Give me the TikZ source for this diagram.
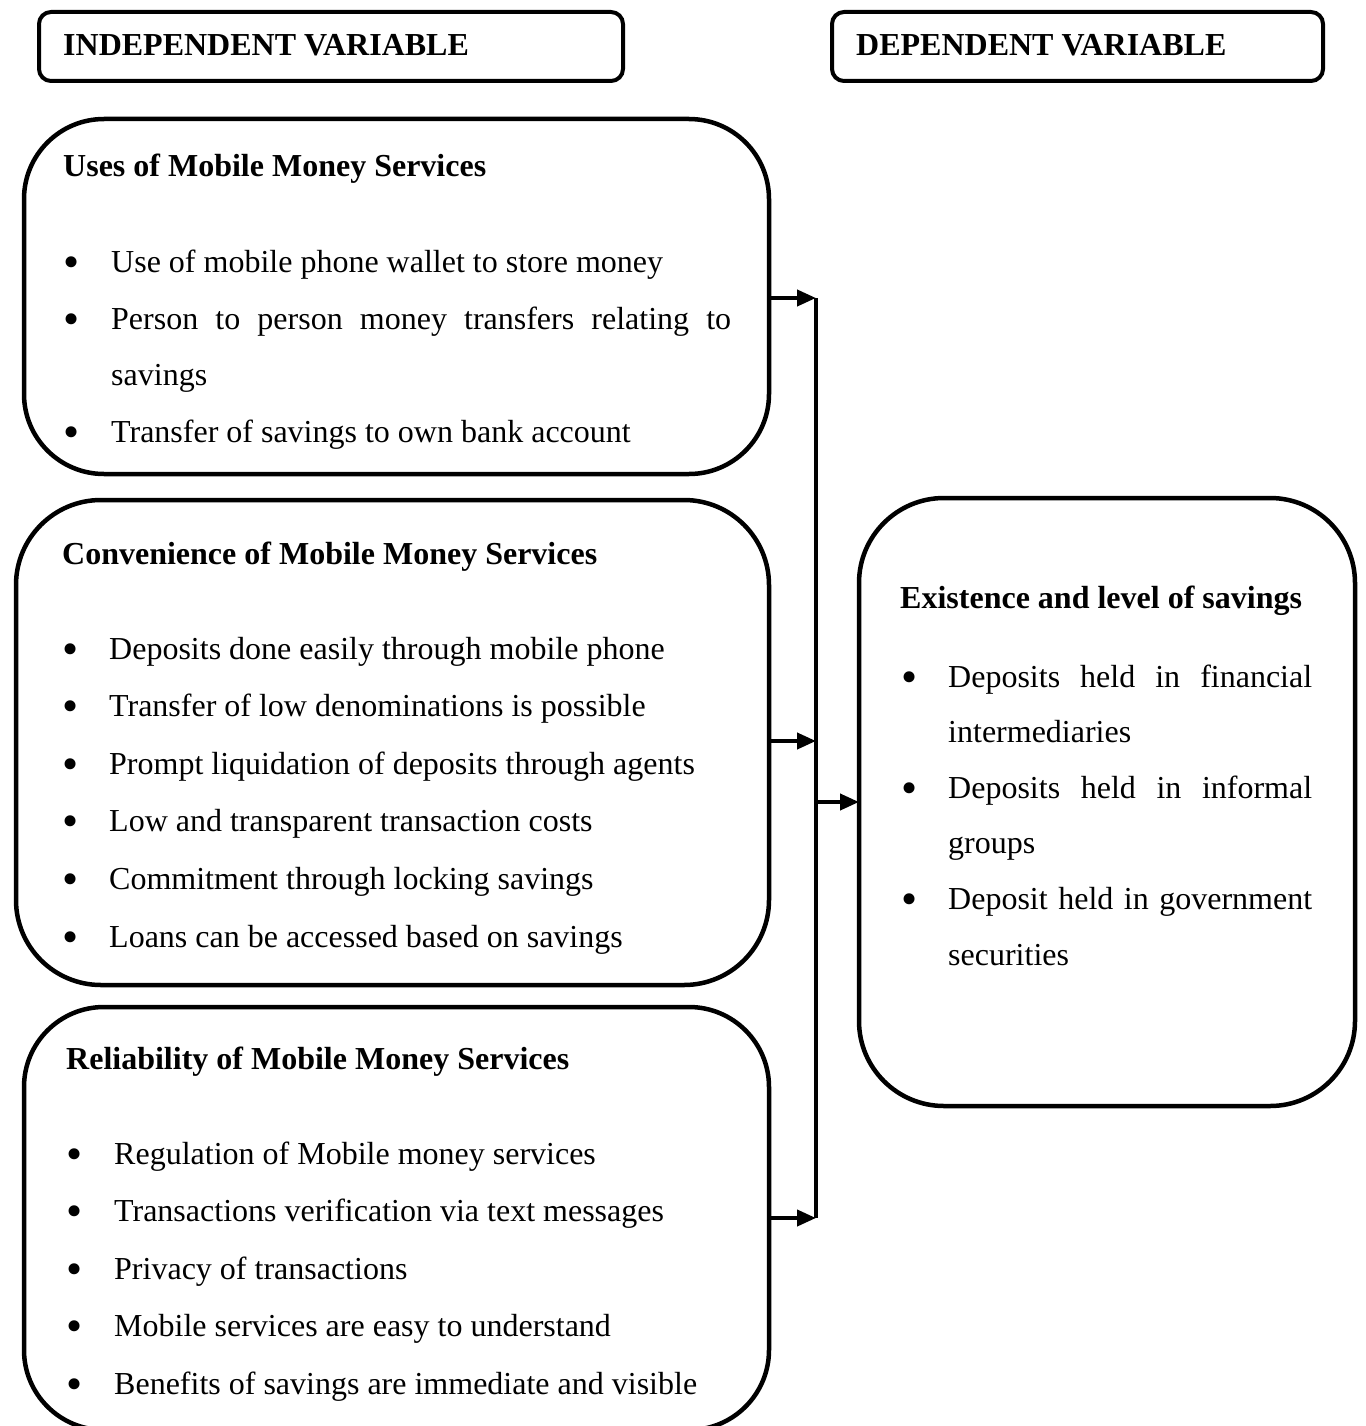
\documentclass[tikz,border=0pt]{standalone}
\usepackage{fontspec}
\setmainfont{Liberation Serif}
\usetikzlibrary{arrows.meta}
\begin{document}
\begin{tikzpicture}[x=1pt,y=-1pt,
  box/.style={draw, line width=4.5pt, rounded corners=80pt, inner sep=0pt, outer sep=0pt},
  hbox/.style={draw, line width=4pt, rounded corners=12pt, inner sep=0pt, outer sep=0pt},
  txt/.style={anchor=base west, inner sep=0pt, yshift=-4pt, font=\fontsize{32}{40}\selectfont},
  hd/.style={anchor=base west, inner sep=0pt, yshift=-3pt, font=\fontsize{32}{40}\selectfont\bfseries},
  bul/.style={anchor=base, inner sep=0pt, yshift=-9pt, font=\fontsize{46}{46}\selectfont},
  conn/.style={line width=4pt},
  arr/.style={line width=4pt, -{Triangle[length=19pt,width=16pt]}}]
\clip (0,0) rectangle (1365,1426);
% header boxes
\node[hbox, minimum width=584pt, minimum height=69pt] (h1) at (331,46.5) {};
\node[hbox, minimum width=491pt, minimum height=69pt] (h2) at (1077.5,46.5) {};
\node[hd] (h1t) at (63,53) {INDEPENDENT VARIABLE};
\node[hd] (h2t) at (856,53) {DEPENDENT VARIABLE};
% main boxes
\node[box, minimum width=745pt, minimum height=355pt] (b1) at (396.5,296.5) {};
\node[box, rounded corners=85pt, minimum width=753pt, minimum height=485pt] (b2) at (392.5,742.5) {};
\node[box, minimum width=745pt, minimum height=423pt] (b3) at (396.5,1218.5) {};
\node[box, rounded corners=85pt, minimum width=496pt, minimum height=608pt] (b4) at (1107,802) {};
% box 1 text
\node[hd] (b1h) at (63,173) {Uses of Mobile Money Services};
\node[bul] (b1u1) at (72,268) {\textbullet};
\node[txt] (b1t1) at (111,268) {Use of mobile phone wallet to store money};
\node[bul] (b1u2) at (72,325) {\textbullet};
\node[txt] (b1t2) at (111,325) {\makebox[620pt][s]{Person to person money transfers relating to}};
\node[txt] (b1t2b) at (111,381) {savings};
\node[bul] (b1u3) at (72,438) {\textbullet};
\node[txt] (b1t3) at (111,438) {Transfer of savings to own bank account};
% box 2 text
\node[hd] (b2h) at (62,561) {Convenience of Mobile Money Services};
\node[bul] (b2u1) at (71,655) {\textbullet};
\node[txt] (b2t1) at (109,655) {Deposits done easily through mobile phone};
\node[bul] (b2u2) at (71,712.6) {\textbullet};
\node[txt] (b2t2) at (109,712.6) {Transfer of low denominations is possible};
\node[bul] (b2u3) at (71,770.2) {\textbullet};
\node[txt] (b2t3) at (109,770.2) {Prompt liquidation of deposits through agents};
\node[bul] (b2u4) at (71,827.8) {\textbullet};
\node[txt] (b2t4) at (109,827.8) {Low and transparent transaction costs};
\node[bul] (b2u5) at (71,885.4) {\textbullet};
\node[txt] (b2t5) at (109,885.4) {Commitment through locking savings};
\node[bul] (b2u6) at (71,943) {\textbullet};
\node[txt] (b2t6) at (109,943) {Loans can be accessed based on savings};
% box 3 text
\node[hd] (b3h) at (66,1066) {Reliability of Mobile Money Services};
\node[bul] (b3u1) at (75,1160) {\textbullet};
\node[txt] (b3t1) at (114,1160) {Regulation of Mobile money services};
\node[bul] (b3u2) at (75,1217.5) {\textbullet};
\node[txt] (b3t2) at (114,1217.5) {Transactions verification via text messages};
\node[bul] (b3u3) at (75,1275) {\textbullet};
\node[txt] (b3t3) at (114,1275) {Privacy of transactions};
\node[bul] (b3u4) at (75,1332.5) {\textbullet};
\node[txt] (b3t4) at (114,1332.5) {Mobile services are easy to understand};
\node[bul] (b3u5) at (75,1390) {\textbullet};
\node[txt] (b3t5) at (114,1390) {Benefits of savings are immediate and visible};
% box 4 text
\node[hd] (b4h) at (900,605) {Existence and level of savings};
\node[bul] (b4u1) at (910,683) {\textbullet};
\node[txt] (b4t1) at (948,683) {\makebox[364pt][s]{Deposits held in financial}};
\node[txt] (b4t1b) at (948,738.6) {intermediaries};
\node[bul] (b4u2) at (910,794.2) {\textbullet};
\node[txt] (b4t2) at (948,794.2) {\makebox[364pt][s]{Deposits held in informal}};
\node[txt] (b4t2b) at (948,849.8) {groups};
\node[bul] (b4u3) at (910,905.4) {\textbullet};
\node[txt] (b4t3) at (948,905.4) {\makebox[364pt][s]{Deposit held in government}};
\node[txt] (b4t3b) at (948,961) {securities};
% connectors
\coordinate (vtop) at (816,298);
\coordinate (vmid) at (816,741);
\coordinate (vbot) at (816,1218);
\coordinate (vout) at (816,802);
\draw[conn] (vtop) -- (vbot);
\draw[arr] (b1.east |- vtop) -- (vtop);
\draw[arr] (b2.east |- vmid) -- (vmid);
\draw[arr] (b3.east |- vbot) -- (vbot);
\draw[arr] (vout) -- (b4.west);
\end{tikzpicture}
\end{document}
